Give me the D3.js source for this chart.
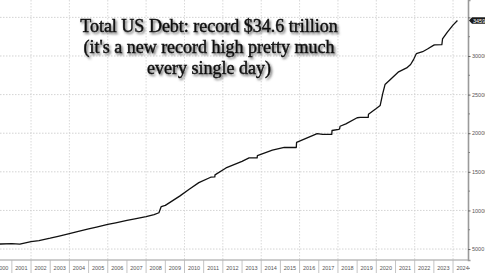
<!DOCTYPE html>
<html>
<head>
  <meta charset="utf-8">
  <title>Total US Debt</title>
  <script src="https://d3js.org/d3.v7.min.js"></script>
  <style>
    body { margin: 0; background: #fff; }
  </style>
</head>
<body>
  <svg id="chart" width="485" height="273"></svg>

  <script>
    const width = 485;
    const height = 273;

    // total public debt outstanding, $ billions
    const dates = [
      "2000-01-01", "2000-06-01", "2001-01-01", "2001-06-01", "2002-01-01", "2002-06-01",
      "2003-01-01", "2003-06-01", "2004-01-01", "2004-06-01", "2005-01-01", "2005-06-01",
      "2006-01-01", "2006-06-01", "2007-01-01", "2007-06-01", "2008-01-01", "2008-06-01",
      "2008-09-01", "2008-10-15", "2009-01-01", "2009-10-01", "2010-04-01", "2010-10-01",
      "2011-05-15", "2011-08-01", "2011-08-05", "2012-03-01", "2012-12-31", "2013-05-15",
      "2013-10-15", "2013-10-20", "2014-08-01", "2015-03-15", "2015-10-30", "2015-11-05",
      "2016-12-01", "2017-03-15", "2017-09-05", "2017-09-10", "2018-01-15", "2018-02-01",
      "2018-02-10", "2018-06-01", "2019-01-01", "2019-03-01", "2019-07-31", "2019-08-05",
      "2019-12-31", "2020-03-15", "2020-05-01", "2020-06-15", "2020-09-15", "2021-03-01",
      "2021-08-01", "2021-10-15", "2021-12-15", "2022-02-01", "2022-06-01", "2022-09-01",
      "2022-12-31", "2023-01-19", "2023-06-02", "2023-06-15", "2023-09-15", "2023-12-31",
      "2024-03-25"
    ];
    const debt = [
      5710, 5650, 5700, 5640, 5950, 6100,
      6400, 6650, 7000, 7250, 7600, 7850,
      8200, 8400, 8700, 8900, 9200, 9450,
      9700, 10500, 10650, 11850, 12750, 13600,
      14300, 14350, 14600, 15500, 16350, 16800,
      16800, 17100, 17800, 18150, 18150, 18800,
      19950, 19850, 19850, 20350, 20500, 20550,
      20900, 21200, 22000, 22050, 22050, 22450,
      23200, 23600, 25100, 26300, 26900, 27950,
      28450, 28900, 29600, 30300, 30550, 30900,
      31400, 31450, 31460, 32200, 33100, 34000,
      34594
    ];
    const years = d3.range(2000, 2025);
    const yTicks = [5000, 10000, 15000, 20000, 25000, 30000, 35000];
    const lastLabel = "34594";
    const titleLines = [
      "Total US Debt: record $34.6 trillion",
      "(it's a new record high pretty much",
      "every single day)"
    ];

    const parse = d3.timeParse("%Y-%m-%d");
    const data = dates.map((d, i) => ({ date: parse(d), value: debt[i] }));

    const plotRight = 468;
    const plotBottom = 260;

    const svg = d3.select("#chart")
      .attr("width", width)
      .attr("height", height);

    const x = d3.scaleTime()
      .domain([new Date(2000, 4, 20), new Date(2024, 9, 12)])
      .range([0, plotRight]);

    const y = d3.scaleLinear()
      .domain([3580, 37250])
      .range([plotBottom, 0]);

    // gridlines
    svg.append("g")
      .selectAll("line")
      .data(yTicks)
      .join("line")
      .attr("x1", 0)
      .attr("x2", plotRight)
      .attr("y1", d => y(d))
      .attr("y2", d => y(d))
      .attr("stroke", "#c8c8c8")
      .attr("stroke-width", 0.8)
      .attr("stroke-dasharray", "1.5,1.5");

    svg.append("g")
      .selectAll("line")
      .data(years.filter(d => d % 2 === 0))
      .join("line")
      .attr("x1", d => x(new Date(d, 0, 1)))
      .attr("x2", d => x(new Date(d, 0, 1)))
      .attr("y1", 0)
      .attr("y2", plotBottom)
      .attr("stroke", "#d0d0d0")
      .attr("stroke-width", 0.8)
      .attr("stroke-dasharray", "1.5,1.5");

    // bottom axis band with year separators
    svg.append("line")
      .attr("x1", 0).attr("x2", plotRight)
      .attr("y1", plotBottom).attr("y2", plotBottom)
      .attr("stroke", "#9a9a9a");

    svg.append("g")
      .selectAll("line")
      .data(years)
      .join("line")
      .attr("x1", d => x(new Date(d, 0, 1)))
      .attr("x2", d => x(new Date(d, 0, 1)))
      .attr("y1", plotBottom)
      .attr("y2", height)
      .attr("stroke", "#b5b5b5")
      .attr("stroke-width", 0.8);

    svg.append("g")
      .selectAll("text")
      .data(years)
      .join("text")
      .attr("x", d => x(new Date(d, 6, 1)))
      .attr("y", 270)
      .attr("text-anchor", "middle")
      .style("font-family", "Liberation Sans, Arial, sans-serif")
      .style("font-size", "5.5px")
      .style("fill", "#555")
      .text(d => d);

    // right axis (the 35000 label sits under the last value tag)
    const yAxis = d3.axisRight(y)
      .tickValues(yTicks)
      .tickFormat(d => d === 35000 ? "" : d3.format("d")(d))
      .tickSize(2.5)
      .tickPadding(1.5);

    const axisG = svg.append("g")
      .attr("transform", `translate(${plotRight},0)`)
      .call(yAxis);
    axisG.select(".domain").attr("stroke", "#9a9a9a").attr("stroke-width", 1.6);
    axisG.selectAll(".tick line").attr("stroke", "#666");
    axisG.selectAll(".tick text")
      .style("font-family", "Liberation Sans, Arial, sans-serif")
      .style("font-size", "5.5px")
      .style("fill", "#555");

    // minor ticks
    axisG.append("g")
      .selectAll("line")
      .data(yTicks.map(d => d - 2500))
      .join("line")
      .attr("x1", 0).attr("x2", 2)
      .attr("y1", d => y(d)).attr("y2", d => y(d))
      .attr("stroke", "#888");

    // debt line
    const line = d3.line()
      .x(d => x(d.date))
      .y(d => y(d.value));

    svg.append("path")
      .datum(data)
      .attr("fill", "none")
      .attr("stroke", "#111")
      .attr("stroke-width", 1.3)
      .attr("stroke-linejoin", "round")
      .attr("d", line);

    // last value tag
    const last = data[data.length - 1];
    const tag = svg.append("g")
      .attr("transform", `translate(${plotRight + 1},${y(last.value)})`);
    tag.append("path")
      .attr("d", "M0,0 L3,-3.2 L17,-3.2 L17,3.2 L3,3.2 Z")
      .attr("fill", "#1a1a1a");
    tag.append("text")
      .attr("x", 4)
      .attr("y", 2)
      .style("font-family", "Liberation Sans, Arial, sans-serif")
      .style("font-size", "5.5px")
      .style("fill", "#fff")
      .text(lastLabel);

    // title with shadow
    const defs = svg.append("defs");
    const filter = defs.append("filter")
      .attr("id", "shadow")
      .attr("x", "-10%").attr("y", "-30%")
      .attr("width", "120%").attr("height", "160%");
    filter.append("feDropShadow")
      .attr("dx", 1.5)
      .attr("dy", 1.8)
      .attr("stdDeviation", 1)
      .attr("flood-color", "#444")
      .attr("flood-opacity", 0.8);

    svg.append("g")
      .selectAll("text")
      .data(titleLines)
      .join("text")
      .attr("x", 209)
      .attr("y", (d, i) => 32 + i * 21)
      .attr("text-anchor", "middle")
      .attr("filter", "url(#shadow)")
      .style("font-family", "Liberation Serif, serif")
      .style("font-size", "18px")
      .style("fill", "#111")
      .style("stroke", "#111")
      .style("stroke-width", 0.45)
      .text(d => d);
  </script>
</body>
</html>
